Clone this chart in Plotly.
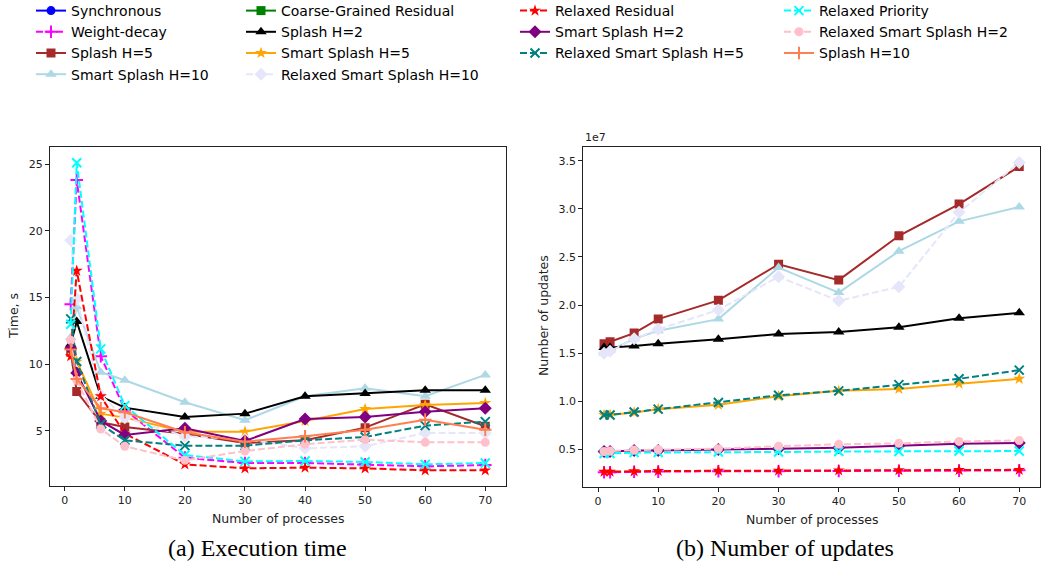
import plotly.graph_objects as go

# ---------------- data ----------------
procs = [1, 2, 6, 10, 20, 30, 40, 50, 60, 70]

# (a) execution time, seconds (None = not visible in the figure)
time_synchronous = [None] * 10
time_weight_decay = [14.5, 23.8, 10.6, 6.6, 3.0, 2.6, 2.6, 2.5, 2.35, 2.45]
time_splash_h5 = [10.9, 7.95, 5.65, 5.3, 4.8, 4.1, 4.3, 5.25, 7.0, 5.35]
time_smart_splash_h10 = [12.0, 14.3, 9.4, 8.8, 7.15, 5.8, 7.6, 8.2, 7.6, 9.2]
time_coarse_grained = [None] * 10
time_splash_h2 = [11.5, 13.2, 7.6, 6.75, 6.05, 6.3, 7.6, 7.8, 8.05, 8.05]
time_smart_splash_h5 = [11.0, 10.2, 6.3, 6.0, 4.95, 4.95, 5.75, 6.65, 6.95, 7.1]
time_relaxed_smart_splash_h10 = [19.3, 14.9, 7.7, 6.0, 4.6, 4.4, 3.7, 3.85, 4.85, 4.85]
time_relaxed_residual = [10.6, 17.0, 7.6, 4.8, 2.5, 2.2, 2.25, 2.2, 2.05, 2.05]
time_smart_splash_h2 = [11.2, 9.35, 5.75, 4.7, 5.2, 4.25, 5.9, 6.05, 6.45, 6.7]
time_relaxed_smart_splash_h5 = [13.4, 10.2, 5.5, 4.3, 3.9, 3.9, 4.3, 4.55, 5.4, 5.7]
time_relaxed_priority = [13.0, 25.1, 11.15, 6.9, 3.2, 2.72, 2.75, 2.68, 2.5, 2.6]
time_relaxed_smart_splash_h2 = [11.8, 8.8, 5.15, 3.85, 2.8, 3.5, 4.0, 4.35, 4.15, 4.15]
time_splash_h10 = [11.1, 8.9, 6.7, 6.4, 4.9, 4.2, 4.6, 5.1, 5.85, 5.1]

# (b) number of updates, in units of 1e7
upd_synchronous = [None] * 10
upd_weight_decay = [0.265, 0.265, 0.27, 0.272, 0.275, 0.275, 0.278, 0.28, 0.282, 0.285]
upd_splash_h5 = [1.60, 1.62, 1.71, 1.855, 2.05, 2.425, 2.26, 2.72, 3.05, 3.44]
upd_smart_splash_h10 = [1.50, 1.53, 1.65, 1.735, 1.855, 2.39, 2.13, 2.56, 2.87, 3.02]
upd_coarse_grained = [None] * 10
upd_splash_h2 = [1.56, 1.56, 1.575, 1.60, 1.645, 1.70, 1.72, 1.77, 1.865, 1.92]
upd_smart_splash_h5 = [0.86, 0.86, 0.885, 0.92, 0.965, 1.055, 1.11, 1.13, 1.185, 1.235]
upd_relaxed_smart_splash_h10 = [1.50, 1.52, 1.65, 1.75, 1.95, 2.295, 2.045, 2.19, 2.965, 3.48]
upd_relaxed_residual = [0.27, 0.27, 0.275, 0.278, 0.28, 0.282, 0.285, 0.286, 0.288, 0.29]
upd_smart_splash_h2 = [0.48, 0.48, 0.49, 0.49, 0.50, 0.51, 0.52, 0.54, 0.56, 0.57]
upd_relaxed_smart_splash_h5 = [0.86, 0.86, 0.89, 0.92, 0.99, 1.065, 1.11, 1.175, 1.235, 1.325]
upd_relaxed_priority = [0.46, 0.46, 0.47, 0.47, 0.475, 0.475, 0.48, 0.48, 0.485, 0.485]
upd_relaxed_smart_splash_h2 = [0.48, 0.485, 0.495, 0.50, 0.51, 0.535, 0.555, 0.565, 0.585, 0.595]
upd_splash_h10 = [None] * 10

names = ["Synchronous", "Weight-decay", "Splash H=5", "Smart Splash H=10",
         "Coarse-Grained Residual", "Splash H=2", "Smart Splash H=5",
         "Relaxed Smart Splash H=10", "Relaxed Residual", "Smart Splash H=2",
         "Relaxed Smart Splash H=5", "Relaxed Priority",
         "Relaxed Smart Splash H=2", "Splash H=10"]

time_values = [time_synchronous, time_weight_decay, time_splash_h5, time_smart_splash_h10,
               time_coarse_grained, time_splash_h2, time_smart_splash_h5,
               time_relaxed_smart_splash_h10, time_relaxed_residual, time_smart_splash_h2,
               time_relaxed_smart_splash_h5, time_relaxed_priority,
               time_relaxed_smart_splash_h2, time_splash_h10]
upd_values = [upd_synchronous, upd_weight_decay, upd_splash_h5, upd_smart_splash_h10,
              upd_coarse_grained, upd_splash_h2, upd_smart_splash_h5,
              upd_relaxed_smart_splash_h10, upd_relaxed_residual, upd_smart_splash_h2,
              upd_relaxed_smart_splash_h5, upd_relaxed_priority,
              upd_relaxed_smart_splash_h2, upd_splash_h10]

# ---------------- styles ----------------
colors = ["#0000FF", "#FF00FF", "#A52A2A", "#ADD8E6", "#008000", "#000000", "#FFA500",
          "#E6E6FA", "#FF0000", "#800080", "#008080", "#00FFFF", "#FFC0CB", "#FF7F50"]
DASH = "7px,3px"
dashes = ["solid", DASH, "solid", "solid", "solid", "solid", "solid",
          DASH, DASH, "solid", DASH, DASH, DASH, "solid"]
symbols = ["circle", "cross-thin", "square", "triangle-up", "square", "triangle-up", "star",
           "diamond", "star", "diamond", "x-thin", "x-thin", "circle", "cross-thin"]
sizes = [9, 9, 9, 10, 9, 10, 9, 10, 9, 10, 9, 9, 9, 9]
legend_keys = ["legend"] * 4 + ["legend2"] * 4 + ["legend3"] * 3 + ["legend4"] * 3

W, H = 1041, 564
FONT = "DejaVu Sans"

fig = go.Figure()


def add_series(i, xs, ys, xaxis, yaxis, showlegend):
    thin = symbols[i].endswith("-thin")
    fig.add_trace(go.Scatter(
        x=xs, y=ys, name=names[i], mode="lines+markers",
        xaxis=xaxis, yaxis=yaxis, showlegend=showlegend,
        legend=legend_keys[i],
        line=dict(color=colors[i], width=2, dash=dashes[i]),
        marker=dict(symbol=symbols[i], size=sizes[i], color=colors[i],
                    line=dict(color=colors[i], width=2 if thin else 0)),
    ))


for i in range(len(names)):
    add_series(i, procs, time_values[i], "x", "y", True)
for i in range(len(names)):
    add_series(i, procs, upd_values[i], "x2", "y2", False)


def px_x(v):
    return v / W


def px_y(v):
    return 1 - v / H


axis_common = dict(showline=True, linecolor="#222", linewidth=1, mirror=True,
                   ticks="outside", ticklen=4, tickcolor="#222", showgrid=False,
                   zeroline=False, automargin=False,
                   tickfont=dict(family=FONT, size=11, color="#222"))

fig.update_layout(
    width=W, height=H, margin=dict(l=0, r=0, t=0, b=0, autoexpand=False),
    paper_bgcolor="white", plot_bgcolor="white",
    font=dict(family=FONT, color="#222"),
    xaxis=dict(domain=[px_x(50), px_x(506)], range=[-2.45, 73.45], anchor="y",
               tickvals=[0, 10, 20, 30, 40, 50, 60, 70], **axis_common),
    yaxis=dict(domain=[px_y(485.7), px_y(146.7)], range=[0.9, 26.3], anchor="x",
               tickvals=[5, 10, 15, 20, 25], **axis_common),
    xaxis2=dict(domain=[px_x(583.3), px_x(1040)], range=[-2.45, 73.45], anchor="y2",
                tickvals=[0, 10, 20, 30, 40, 50, 60, 70], **axis_common),
    yaxis2=dict(domain=[px_y(486.7), px_y(146.7)], range=[0.115, 3.645], anchor="x2",
                tickvals=[0.5, 1.0, 1.5, 2.0, 2.5, 3.0, 3.5], tickformat=".1f",
                **axis_common),
)

leg_common = dict(orientation="v", xanchor="left", yanchor="top", y=px_y(-5),
                  bgcolor="rgba(0,0,0,0)", borderwidth=0, tracegroupgap=0,
                  font=dict(family=FONT, size=14, color="black"))
fig.update_layout(
    legend=dict(x=px_x(31), **leg_common),
    legend2=dict(x=px_x(241), **leg_common),
    legend3=dict(x=px_x(515), **leg_common),
    legend4=dict(x=px_x(779), **leg_common),
)


def label(text, x, y, size, family=FONT, color="#222", angle=0, xanchor="center"):
    return dict(text=text, x=px_x(x), y=px_y(y), xref="paper", yref="paper",
                xanchor=xanchor, yanchor="middle", textangle=angle, showarrow=False,
                font=dict(family=family, size=size, color=color))


fig.update_layout(annotations=[
    label("Number of processes", 278, 518, 12.5),
    label("Number of processes", 812, 519, 12.5),
    label("Time, s", 13, 316, 12.5, angle=-90),
    label("Number of updates", 543, 316, 12.5, angle=-90),
    label("1e7", 583, 138, 11, xanchor="left"),
    label("(a) Execution time", 257, 548, 24, family="Liberation Serif", color="black"),
    label("(b) Number of updates", 785, 548, 24, family="Liberation Serif", color="black"),
])

fig.write_html("out.html", config={"displayModeBar": False},
               post_script="document.body.style.margin='0px';document.body.style.overflow='hidden';")
